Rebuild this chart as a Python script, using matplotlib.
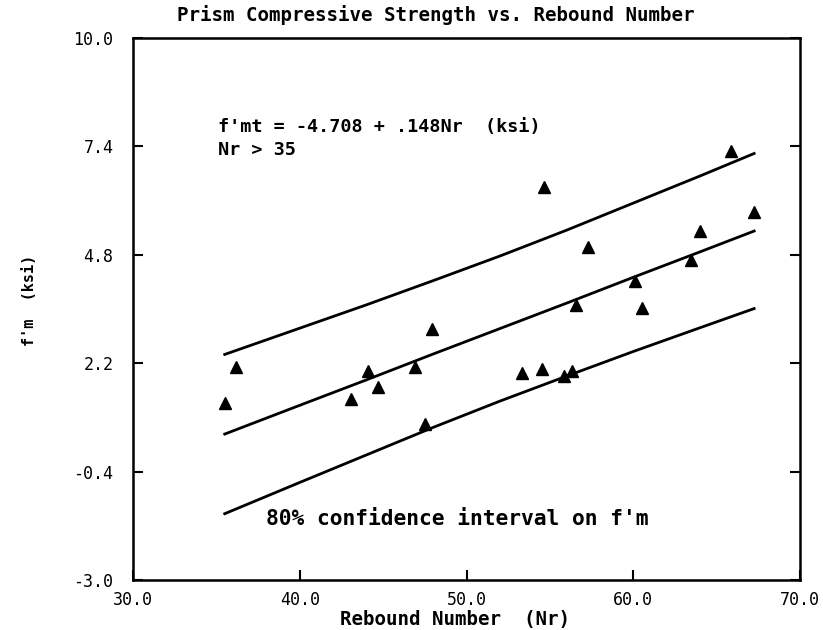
import matplotlib
matplotlib.use("Agg")
import matplotlib.pyplot as plt

# Data points (Rebound Number, f'm ksi)
rebound = [35.5, 36.2, 43.05, 44.07, 44.67, 46.89, 47.54, 47.96, 53.35, 54.55,
           54.67, 55.87, 56.35, 56.59, 57.31, 60.12, 60.54, 63.47, 64.01, 65.87, 67.25]
fm = [1.25, 2.11, 1.34, 2.01, 1.63, 2.11, 0.74, 3.02, 1.97, 2.06,
      6.43, 1.89, 2.01, 3.60, 4.99, 4.17, 3.53, 4.68, 5.37, 7.29, 5.83]

# Regression line and 80% confidence band
band_x = [35.5, 40.0, 44.0, 48.0, 52.0, 56.0, 60.0, 64.0, 67.25]
center_y = [0.50, 1.19, 1.80, 2.42, 3.03, 3.64, 4.26, 4.87, 5.37]
upper_y = [2.41, 3.04, 3.60, 4.18, 4.77, 5.39, 6.04, 6.69, 7.23]
lower_y = [-1.41, -0.66, 0.00, 0.66, 1.29, 1.89, 2.48, 3.05, 3.51]

x_ticks = [30.0, 40.0, 50.0, 60.0, 70.0]
y_ticks = [-3.0, -0.4, 2.2, 4.8, 7.4, 10.0]

FONT = "DejaVu Sans Mono"

fig = plt.figure(figsize=(8.23, 6.30), dpi=100)
ax = fig.add_axes([133/823, 1-580/630, (800-133)/823, (580-38)/630])

ax.plot(band_x, center_y, color="black", lw=2.0)
ax.plot(band_x, upper_y, color="black", lw=2.0)
ax.plot(band_x, lower_y, color="black", lw=2.0)
ax.plot(rebound, fm, linestyle="none", marker="^", color="black", markersize=8)

ax.set_xlim(30, 70)
ax.set_ylim(-3, 10)
ax.set_xticks(x_ticks)
ax.set_yticks(y_ticks)
ax.set_xticklabels([f"{v:.1f}" for v in x_ticks], fontfamily=FONT, fontsize=12)
ax.set_yticklabels([f"{v:.1f}" for v in y_ticks], fontfamily=FONT, fontsize=12)
ax.tick_params(axis="both", direction="in", length=7, width=1.5,
               right=True, top=False)
ax.tick_params(axis="x", pad=8)
ax.tick_params(axis="y", pad=14)
for s in ax.spines.values():
    s.set_linewidth(1.8)

ax.text(35.1, 7.87, "f'mt = -4.708 + .148Nr  (ksi)", fontfamily=FONT, fontsize=13.3,
        va="center", ha="left", fontweight="bold")
ax.text(35.1, 7.31, "Nr > 35", fontfamily=FONT, fontsize=13.3, va="center", ha="left",
        fontweight="bold")
ax.text(38.0, -1.53, "80% confidence interval on f'm", fontfamily=FONT, fontsize=15.3,
        va="center", ha="left", fontweight="bold")

fig.text(436/823, 1-15/630, "Prism Compressive Strength vs. Rebound Number",
         fontfamily=FONT, fontsize=13.8, ha="center", va="center", fontweight="bold")
fig.text(455/823, 1-619/630, "Rebound Number  (Nr)", fontfamily=FONT, fontsize=13.8,
         ha="center", va="center", fontweight="bold")
fig.text(30/823, 1-300/630, "f'm  (ksi)", fontfamily=FONT, fontsize=11,
         ha="center", va="center", rotation=90, fontweight="bold")

fig.savefig("out.png", dpi=100)
